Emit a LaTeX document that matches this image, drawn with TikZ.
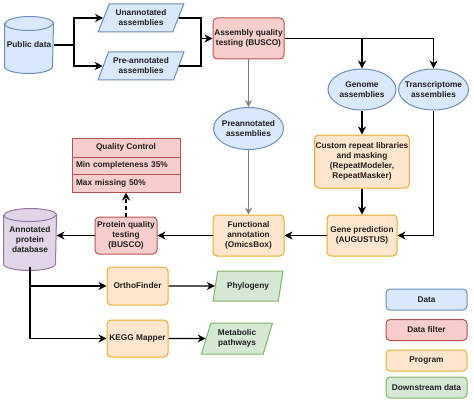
\documentclass[tikz,border=0pt]{standalone}
\usepackage{fontspec}
\setmainfont{Liberation Sans}
\usetikzlibrary{shapes.geometric,arrows.meta,backgrounds}
\definecolor{bfill}{HTML}{DAE8FC}\definecolor{bdraw}{HTML}{6C8EBF}
\definecolor{rfill}{HTML}{F8CECC}\definecolor{rdraw}{HTML}{B85450}
\definecolor{ofill}{HTML}{FFE6CC}\definecolor{odraw}{HTML}{E8AD30}
\definecolor{gfill}{HTML}{D5E8D4}\definecolor{gdraw}{HTML}{82B366}
\definecolor{pfill}{HTML}{E1D5E7}\definecolor{pdraw}{HTML}{9673A6}
\definecolor{gline}{HTML}{808080}
\definecolor{txt}{HTML}{202020}
% #1 node, #2 fill, #3 draw, #4 x radius, #5 y radius, #6 upward shift
\newcommand\mycyl[6]{%
  \begin{scope}[on background layer,yshift=#6]
    \filldraw[fill=#2,draw=#3,line width=1pt]
      ([yshift=-#5]#1.north west) -- ([yshift=#5]#1.south west)
      arc[start angle=180,end angle=360,x radius=#4,y radius=#5]
      -- ([yshift=-#5]#1.north east)
      arc[start angle=0,end angle=180,x radius=#4,y radius=#5] -- cycle;
    \draw[draw=#3,line width=1pt] ([yshift=-#5]#1.north west)
      arc[start angle=180,end angle=360,x radius=#4,y radius=#5];
  \end{scope}}
\begin{document}
\begin{tikzpicture}[x=1pt,y=-1pt,
  font=\fontsize{8.3}{10}\selectfont\bfseries,
  wh/.style 2 args={minimum width=#1,minimum height=#2},
  nd/.style={align=center,inner sep=1pt,line width=1pt,text=txt},
  prog/.style={nd,rectangle,rounded corners=4pt,fill=ofill,draw=odraw},
  filt/.style={nd,rectangle,rounded corners=4pt,fill=rfill,draw=rdraw},
  datab/.style={nd,rectangle,rounded corners=4pt,fill=bfill,draw=bdraw},
  downb/.style={nd,rectangle,rounded corners=4pt,fill=gfill,draw=gdraw},
  dataell/.style={nd,ellipse,inner xsep=-6pt,inner ysep=0pt,fill=bfill,draw=bdraw},
  para/.style 2 args={nd,trapezium,trapezium left angle=#1,trapezium right angle=#2,trapezium stretches=true},
  qrow/.style={nd,rectangle,fill=rfill,draw=rdraw},
  ln/.style={line width=1.4pt},
  arr/.style={line width=1.4pt,-{Stealth[length=8pt,width=8pt,inset=2.5pt]}},
  garr/.style={line width=0.9pt,draw=gline,-{Stealth[length=7pt,width=7pt,inset=2.5pt]}},
]
\useasboundingbox (0,0) rectangle (474,404);

% nodes
\node[nd,wh={48pt}{56pt}] (pub) at (29,45) {Public data};
\mycyl{pub}{bfill}{bdraw}{24pt}{7pt}{0pt}
\node[para={63}{117},fill=bfill,draw=bdraw,wh={86pt}{28pt}] (una) at (141,18) {Unannotated\\assemblies};
\node[para={63}{117},fill=bfill,draw=bdraw,wh={86pt}{28pt}] (pre) at (141,66) {Pre-annotated\\assemblies};
\node[filt,wh={71pt}{41pt}] (asm) at (248.5,38.5) {Assembly quality\\testing (BUSCO)};
\node[dataell,wh={68pt}{41pt}] (gen) at (362,89.5) {Genome\\assemblies};
\node[dataell,wh={70pt}{41pt}] (tra) at (433.5,89.5) {Transcriptome\\assemblies};
\node[dataell,wh={70pt}{42pt}] (prea) at (248.5,128.5) {Preannotated\\assemblies};
\node[prog,wh={94pt}{53pt}] (rep) at (362,161.5) {Custom repeat libraries\\and masking\\(RepeatModeler,\\RepeatMasker)};
\node[prog,wh={70pt}{41pt}] (gpred) at (362,235.5) {Gene prediction\\(AUGUSTUS)};
\node[prog,wh={71pt}{41pt}] (func) at (248.5,235.5) {Functional\\annotation\\(OmicsBox)};
\node[filt,wh={62pt}{37pt}] (prot) at (126,235.5) {Protein quality\\testing\\(BUSCO)};
\node[nd,wh={52pt}{61pt}] (apd) at (30,239.5) {Annotated\\protein\\database};
\mycyl{apd}{pfill}{pdraw}{26pt}{6.5pt}{4pt}
\node[qrow,wh={108pt}{19pt}] (qch) at (126,147.5) {Quality Control};
\node[qrow,wh={108pt}{17pt},text width=100pt,inner xsep=4pt,align=left] (qc1) at (126,165.5) {Min completeness 35\%};
\node[qrow,wh={108pt}{18pt},text width=100pt,inner xsep=4pt,align=left] (qc2) at (126,183) {Max missing 50\%};
\node[prog,wh={61pt}{38pt}] (orth) at (137.5,286) {OrthoFinder};
\node[para={71}{109},fill=gfill,draw=gdraw,wh={70pt}{30pt}] (phy) at (248,286) {Phylogeny};
\node[prog,wh={61pt}{37pt}] (kegg) at (137.5,338.5) {KEGG Mapper};
\node[para={70}{110},fill=gfill,draw=gdraw,wh={71pt}{31pt}] (met) at (237,338.5) {Metabolic\\pathways};

% legend
\node[datab,wh={81pt}{21pt}] (lg1) at (426.5,299.5) {Data};
\node[filt,wh={81pt}{21pt}] (lg2) at (426.5,330) {Data filter};
\node[prog,wh={81pt}{21pt}] (lg3) at (426.5,360.5) {Program};
\node[downb,wh={81pt}{21pt}] (lg4) at (426.5,387.5) {Downstream data};

% connectors
\coordinate (jl) at (74,45);
\draw[ln] (pub.east) -- (jl);
\draw[arr] (jl) |- (una.west);
\draw[arr] (jl) |- (pre.west);
\coordinate (jr) at (201,38.5);
\draw[ln] (una.east) -| (jr);
\draw[ln] (pre.east) -| (jr);
\draw[arr] (jr) -- (asm.west);
\draw[arr] (asm.east) -| (gen.north);
\draw[arr] (asm.east) -| (tra.north);
\draw[arr] (gen.south) -- (rep.north);
\draw[arr] (rep.south) -- (gpred.north);
\draw[arr] (tra.south) |- (gpred.east);
\draw[arr] (gpred.west) -- (func.east);
\draw[arr] (func.west) -- (prot.east);
\draw[arr] (prot.west) -- (prot.west -| apd.east);
\draw[garr] (asm.south) -- (prea.north);
\draw[garr] (prea.south) -- (func.north);
\draw[arr,dash pattern=on 4pt off 3pt] (prot.north) -- (qc2.south);
\coordinate (apdb) at ([yshift=4pt]apd.south);
\draw[arr] (apdb) |- (orth.west);
\draw[arr] (apdb) |- (kegg.west);
\draw[arr] (orth.east) -- (phy.west);
\draw[arr] (kegg.east) -- (met.west);
\end{tikzpicture}
\end{document}
